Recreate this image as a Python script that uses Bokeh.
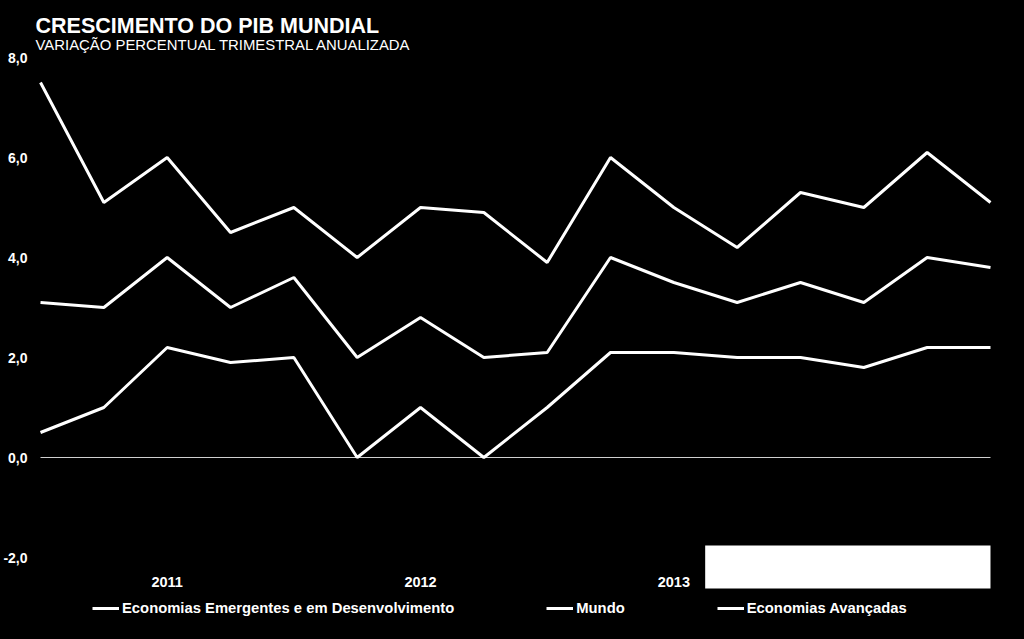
from bokeh.plotting import figure
from bokeh.models import (Range1d, FixedTicker, CustomJSTickFormatter, Label,
                          Legend, LegendItem, BoxAnnotation)
from bokeh.core.properties import value
from bokeh.embed import file_html
from bokeh.resources import INLINE

# ---- data ----
quarters = list(range(16))
emergentes = [7.5, 5.1, 6.0, 4.5, 5.0, 4.0, 5.0, 4.9, 3.9, 6.0, 5.0, 4.2, 5.3, 5.0, 6.1, 5.1]
mundo = [3.1, 3.0, 4.0, 3.0, 3.6, 2.0, 2.8, 2.0, 2.1, 4.0, 3.5, 3.1, 3.5, 3.1, 4.0, 3.8]
avancadas = [0.5, 1.0, 2.2, 1.9, 2.0, 0.0, 1.0, 0.0, 1.0, 2.1, 2.1, 2.0, 2.0, 1.8, 2.2, 2.2]
year_ticks = [2, 6, 10]
year_labels = ["2011", "2012", "2013"]
y_ticks = [-2, 0, 2, 4, 6, 8]
series_names = ["Economias Emergentes e em Desenvolvimento", "Mundo", "Economias Avançadas"]
title_text = "CRESCIMENTO DO PIB MUNDIAL"
subtitle_text = "VARIAÇÃO PERCENTUAL TRIMESTRAL ANUALIZADA"

FONT = "Liberation Sans"

p = figure(width=1024, height=639, output_backend="svg", toolbar_location=None,
           x_range=Range1d(-0.2055, 15.537), y_range=Range1d(-3.64, 9.14),
           x_axis_location=None,
           min_border_left=0, min_border_right=0, min_border_top=0, min_border_bottom=0,
           background_fill_color="black", border_fill_color="black",
           outline_line_color=None)
p.outline_line_alpha = 0
p.grid.visible = False
p.styles = {"background-color": "black"}

# y axis
p.yaxis.ticker = FixedTicker(ticks=y_ticks)
p.yaxis.formatter = CustomJSTickFormatter(code="return tick.toFixed(1).replace('.', ',');")
p.yaxis.axis_line_color = None
p.yaxis.major_tick_line_color = None
p.yaxis.minor_tick_line_color = None
p.yaxis.major_tick_out = 0
p.yaxis.major_tick_in = 0
p.yaxis.major_label_standoff = 0
p.yaxis.major_label_text_color = "white"
p.yaxis.major_label_text_font = FONT
p.yaxis.major_label_text_font_size = "14px"
p.yaxis.major_label_text_font_style = "bold"

# zero line
p.line([quarters[0], quarters[-1]], [0, 0], line_color="#d0d0d0", line_width=1)

# series
r1 = p.line(quarters, emergentes, line_color="white", line_width=3)
r2 = p.line(quarters, mundo, line_color="white", line_width=3)
r3 = p.line(quarters, avancadas, line_color="white", line_width=3)

# category (year) labels under the plot area
p.text(x=year_ticks, y=[-2.48] * len(year_ticks), text=year_labels,
       text_font=value(FONT), text_font_size="14.5px", text_font_style="bold",
       text_color="white", text_align="center", text_baseline="alphabetic")

legend = Legend(items=[LegendItem(label=series_names[0], renderers=[r1]),
                       LegendItem(label=series_names[1], renderers=[r2]),
                       LegendItem(label=series_names[2], renderers=[r3])],
                orientation="horizontal", location=(65, 21), padding=0, margin=0,
                spacing=92, glyph_width=27, glyph_height=20, label_height=20,
                label_standoff=3, label_text_font=FONT, label_text_font_size="14.8px",
                label_text_font_style="bold", label_text_color="white",
                background_fill_alpha=0, border_line_color=None)
p.add_layout(legend, "center")

# white box in lower right
p.add_layout(BoxAnnotation(left=10.495, right=15.0, top=-1.76, bottom=-2.62,
                           fill_color="white", fill_alpha=1, line_color=None))

# titles
p.add_layout(Label(x=-0.079, y=8.64, text=title_text, text_font=FONT,
                   text_font_size="21.5px", text_font_style="bold", text_color="white",
                   text_baseline="alphabetic"))
p.add_layout(Label(x=-0.079, y=8.26, text=subtitle_text, text_font=FONT,
                   text_font_size="14.9px", text_color="white",
                   text_baseline="alphabetic"))

open("out.html", "w").write(file_html(p, INLINE))
